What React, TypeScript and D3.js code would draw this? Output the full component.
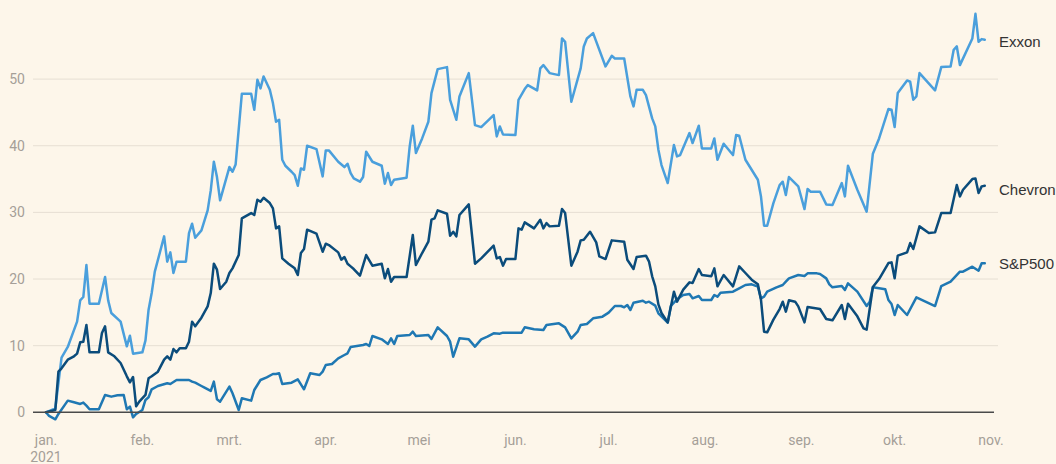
import React from 'react';
import * as d3 from 'd3';

// day offsets are days since 1 Jan 2021; values are % change since start of year
const exxonDay = [
  0, 3, 5, 7, 10, 11, 12, 13, 14, 17,
  19, 20, 21, 24, 26, 27, 28, 31, 32, 33,
  34, 35, 38, 39, 40, 41, 42, 45, 46, 47,
  48, 50, 52, 53, 54, 55, 56, 59, 60, 61,
  63, 66, 67, 68, 69, 70, 72, 73, 74, 75,
  76, 77, 79, 80, 81, 82, 83, 84, 87, 89,
  90, 91, 94, 96, 97, 98, 99, 101, 102, 103,
  105, 108, 109, 110, 111, 112, 116, 117, 118, 119,
  121, 123, 124, 126, 129, 130, 132, 133, 136, 138,
  140, 144, 145, 146, 147, 151, 152, 154, 155, 158,
  159, 160, 162, 165, 166, 167, 169, 172, 173, 174,
  176, 180, 182, 183, 186, 188, 189, 190, 192, 193,
  195, 196, 197, 198, 200, 202, 203, 204, 207, 208,
  210, 211, 214, 215, 216, 218, 221, 222, 223, 225,
  229, 230, 231, 232, 234, 236, 237, 238, 239, 242,
  244, 245, 246, 249, 251, 253, 256, 257, 258, 261,
  264, 266, 268, 271, 272, 273, 274, 277, 278, 279,
  280, 281, 286, 288, 291, 292, 293, 294, 298, 299,
  300, 301, 302,
];
const exxonPct = [
  0, 0.6, 8.2, 9.8, 13.6, 16.8, 17.3, 22.1, 16.3, 16.3,
  20.3, 16.8, 14.9, 13.6, 9.9, 11.5, 8.8, 9.0, 10.8, 15.4,
  17.9, 21.1, 26.4, 22.6, 24.0, 20.9, 22.6, 22.6, 26.9, 28.3,
  26.2, 27.3, 30.3, 33.3, 37.6, 35.3, 31.8, 36.8, 36.1, 37.2,
  47.8, 47.8, 45.4, 49.9, 48.6, 50.4, 48.4, 46.4, 43.6, 43.9,
  37.9, 37.0, 36.1, 35.6, 34.0, 36.6, 36.4, 40.0, 39.5, 35.4,
  39.3, 39.3, 37.6, 36.8, 37.3, 35.9, 35.1, 34.6, 35.3, 39.1,
  37.6, 37.0, 34.3, 35.9, 34.1, 34.9, 35.2, 39.9, 43.0, 38.9,
  41.1, 43.6, 47.9, 51.5, 51.8, 46.9, 43.9, 47.4, 50.9, 43.1,
  42.8, 44.6, 41.4, 42.9, 41.7, 41.6, 46.9, 48.5, 49.1, 48.3,
  51.6, 52.1, 50.9, 50.6, 56.1, 55.6, 46.6, 51.6, 54.9, 56.1,
  56.9, 51.9, 53.5, 53.1, 53.1, 47.4, 45.9, 48.4, 48.4, 47.6,
  44.1, 42.9, 39.4, 37.1, 34.4, 40.1, 38.4, 38.6, 41.9, 40.4,
  43.0, 39.6, 39.6, 41.1, 37.9, 40.3, 38.6, 41.6, 41.5, 37.9,
  34.9, 32.4, 28.0, 28.0, 31.4, 34.1, 34.6, 32.6, 35.3, 33.9,
  30.5, 33.5, 33.1, 33.1, 31.2, 31.1, 34.4, 32.4, 37.0, 33.4,
  30.1, 38.8, 41.1, 45.5, 45.4, 42.8, 47.9, 49.8, 49.6, 46.9,
  47.4, 50.9, 48.3, 51.8, 51.9, 54.4, 54.9, 52.1, 56.1, 59.8,
  55.6, 56.0, 55.9,
];

const chevronDay = [
  0, 3, 4, 5, 7, 9, 10, 11, 12, 13,
  14, 17, 18, 19, 20, 22, 24, 26, 27, 28,
  29, 30, 32, 33, 34, 36, 38, 39, 40, 41,
  42, 43, 45, 46, 47, 48, 50, 52, 53, 54,
  55, 56, 58, 59, 60, 62, 63, 66, 67, 68,
  69, 70, 72, 73, 74, 75, 76, 78, 80, 81,
  82, 83, 84, 87, 89, 90, 91, 94, 95, 96,
  97, 98, 99, 101, 103, 105, 108, 109, 110, 111,
  112, 116, 118, 119, 121, 123, 124, 125, 126, 129,
  130, 131, 132, 133, 136, 138, 140, 144, 145, 146,
  147, 148, 151, 152, 153, 154, 157, 159, 160, 161,
  162, 165, 166, 167, 169, 171, 172, 173, 174, 175,
  177, 178, 180, 182, 186, 187, 189, 190, 193, 194,
  195, 196, 197, 198, 200, 202, 203, 205, 207, 208,
  210, 211, 214, 215, 216, 218, 221, 223, 225, 227,
  229, 230, 231, 232, 234, 236, 237, 238, 239, 241,
  242, 244, 245, 249, 251, 253, 256, 257, 258, 261,
  263, 264, 266, 268, 271, 272, 273, 274, 277, 278,
  279, 281, 284, 286, 288, 291, 293, 294, 295, 298,
  299, 300, 301, 302,
];
const chevronPct = [
  0, 0.35, 6.1, 6.6, 7.9, 8.4, 8.8, 10.5, 10.6, 13.1,
  9.0, 9.0, 11.9, 12.9, 9.0, 8.4, 7.4, 5.4, 4.5, 5.3,
  0.9, 1.6, 2.6, 5.1, 5.4, 6.1, 7.9, 8.4, 7.9, 9.5,
  9.0, 9.6, 9.6, 10.6, 13.6, 12.9, 14.2, 15.9, 17.9, 22.3,
  21.4, 18.5, 19.6, 20.9, 21.6, 23.6, 29.1, 29.9, 29.6, 31.9,
  31.6, 32.2, 31.4, 30.6, 27.6, 27.9, 23.1, 22.3, 21.6, 20.6,
  23.9, 24.5, 27.4, 26.8, 24.1, 25.3, 25.1, 24.0, 22.9, 23.3,
  22.3, 21.9, 21.5, 20.5, 23.6, 22.0, 22.3, 20.1, 21.5, 19.6,
  20.3, 20.3, 26.6, 22.1, 23.9, 25.6, 28.9, 29.1, 30.3, 29.8,
  26.5, 27.1, 26.4, 29.6, 31.2, 22.3, 23.1, 25.0, 23.1, 23.3,
  22.0, 23.0, 23.0, 27.6, 27.4, 28.5, 27.6, 28.9, 27.6, 28.4,
  27.9, 28.0, 30.5, 29.9, 22.0, 24.1, 25.8, 25.9, 26.5, 27.1,
  25.5, 23.4, 23.0, 25.8, 25.6, 22.9, 21.5, 23.3, 23.5, 22.6,
  20.4, 18.9, 16.2, 14.9, 13.5, 18.1, 16.6, 18.4, 19.5, 19.4,
  21.5, 20.6, 20.4, 21.6, 18.9, 20.6, 18.9, 21.9, 20.9, 19.9,
  19.2, 16.9, 12.1, 12.0, 13.9, 15.5, 16.6, 15.1, 16.8, 16.6,
  15.9, 13.5, 15.8, 15.5, 14.0, 13.8, 16.1, 14.0, 16.3, 14.4,
  12.6, 12.4, 18.8, 20.0, 22.4, 22.5, 20.1, 23.5, 24.0, 25.4,
  24.5, 27.9, 26.9, 27.0, 29.9, 29.9, 34.1, 32.4, 33.4, 35.0,
  35.1, 32.9, 33.9, 34.0,
];

const spDay = [
  0, 1, 3, 4, 7, 9, 11, 12, 13, 14,
  17, 19, 21, 23, 25, 26, 27, 28, 29, 31,
  32, 33, 34, 36, 39, 40, 42, 45, 46, 47,
  48, 50, 51, 53, 54, 55, 56, 59, 60, 62,
  63, 66, 67, 69, 71, 73, 74, 75, 76, 79,
  81, 83, 85, 88, 89, 90, 92, 94, 96, 97,
  98, 102, 103, 104, 105, 108, 110, 111, 112, 113,
  117, 118, 119, 123, 124, 126, 129, 130, 131, 133,
  136, 138, 140, 142, 144, 146, 147, 151, 153, 154,
  157, 160, 161, 165, 167, 169, 171, 172, 174, 176,
  179, 181, 183, 185, 186, 187, 188, 189, 192, 193,
  194, 196, 197, 200, 201, 203, 205, 207, 208, 210,
  211, 214, 215, 216, 217, 221, 223, 225, 227, 229,
  230, 231, 232, 235, 237, 238, 239, 242, 244, 245,
  248, 249, 251, 252, 253, 256, 257, 258, 261, 264,
  265, 266, 268, 270, 271, 272, 273, 274, 277, 280,
  286, 288, 291, 294, 295, 298, 300, 301, 302,
];
const spPct = [
  0, -0.55, -1.05, -0.25, 1.75, 1.5, 1.25, 1.45, 1.0, 0.45,
  0.45, 2.6, 2.35, 2.55, 2.6, 0.45, 0.85, -0.75, -0.25, 0.35,
  1.85, 2.25, 3.45, 3.95, 4.35, 4.25, 4.85, 4.85, 4.85, 4.6,
  4.45, 3.95, 3.7, 3.2, 4.6, 1.95, 1.6, 3.85, 2.85, 0.35,
  2.1, 1.75, 3.35, 4.85, 5.25, 5.75, 5.75, 5.85, 4.25, 4.45,
  4.95, 3.45, 5.85, 5.6, 6.1, 7.1, 7.25, 8.1, 8.6, 8.85,
  9.8, 10.1, 10.25, 9.95, 11.45, 10.95, 10.25, 11.1, 10.25, 11.45,
  11.6, 12.1, 11.45, 11.6, 11.0, 12.75, 11.45, 10.6, 8.35, 11.1,
  10.95, 9.85, 10.95, 11.35, 11.85, 11.8, 11.95, 11.95, 11.95, 12.75,
  12.45, 12.35, 13.1, 13.35, 12.75, 11.1, 12.1, 13.1, 13.25, 14.1,
  14.35, 14.95, 15.95, 15.95, 15.75, 16.1, 15.35, 16.45, 16.75, 16.45,
  16.6, 16.0, 14.85, 13.45, 15.95, 16.95, 17.6, 17.75, 17.1, 17.45,
  16.85, 16.85, 17.6, 17.35, 17.95, 18.1, 18.6, 19.1, 19.2, 18.85,
  17.1, 17.35, 18.1, 18.75, 19.1, 19.6, 20.1, 20.6, 20.45, 20.85,
  20.85, 20.75, 20.1, 19.2, 18.75, 18.95, 18.35, 19.35, 18.1, 15.95,
  16.6, 18.75, 18.6, 18.45, 16.85, 16.25, 14.6, 16.1, 14.6, 17.25,
  15.95, 18.95, 19.6, 21.1, 21.1, 21.85, 21.25, 22.35, 22.35,
];

const monthLabels = ['jan.', 'feb.', 'mrt.', 'apr.', 'mei', 'jun.', 'jul.', 'aug.', 'sep.', 'okt.', 'nov.'];
const yTicks = [0, 10, 20, 30, 40, 50];
const seriesNames = ['Exxon', 'Chevron', 'S&P500'];

const W = 1056;
const H = 464;
const BG = '#fdf6ea';
const start = new Date(2021, 0, 1);

export default function App() {
  const x = d3.scaleTime().domain([start, new Date(2021, 10, 1)]).range([46, 991]);
  const y = d3.scaleLinear().domain([0, 50]).range([412.3, 79.1]);
  const months = d3.timeMonth.range(start, new Date(2021, 10, 2));

  const mk = (days: number[], vals: number[]) =>
    days.map((d, i) => ({ date: d3.timeDay.offset(start, d), v: vals[i] }));
  const line = d3
    .line<{ date: Date; v: number }>()
    .x((p) => x(p.date))
    .y((p) => y(p.v));

  const series = [
    { name: seriesNames[0], data: mk(exxonDay, exxonPct), color: '#4a9fdc' },
    { name: seriesNames[2], data: mk(spDay, spPct), color: '#1f78b3' },
    { name: seriesNames[1], data: mk(chevronDay, chevronPct), color: '#0b4c7b' },
  ];

  const labelFont = "'Liberation Sans', Arial, sans-serif";
  const tickFont = "Roboto, 'Noto Sans', sans-serif";

  return (
    <div style={{ position: 'fixed', left: 0, top: 0, width: W, height: H, background: BG }}>
      <svg width={W} height={H} style={{ display: 'block' }}>
        <rect x={0} y={0} width={W} height={H} fill={BG} />
        {yTicks.map((t) => (
          <g key={t}>
            {t !== 0 && (
              <line x1={33} x2={998} y1={y(t)} y2={y(t)} stroke="#e6dfd3" strokeWidth={1} />
            )}
            <text
              x={25}
              y={y(t)}
              dy="0.36em"
              textAnchor="end"
              fontFamily={tickFont}
              fontSize={14}
              fill="#a59f98"
            >
              {t}
            </text>
          </g>
        ))}
        {months.map((m, i) => (
          <text
            key={i}
            x={x(m)}
            y={445}
            textAnchor="middle"
            fontFamily={tickFont}
            fontSize={14}
            fill="#a59f98"
          >
            {monthLabels[i]}
          </text>
        ))}
        <text x={x(start)} y={462} textAnchor="middle" fontFamily={tickFont} fontSize={14} fill="#a59f98">
          2021
        </text>
        {series.map((s) => (
          <path
            key={s.name}
            d={line(s.data) || ''}
            fill="none"
            stroke={s.color}
            strokeWidth={2.5}
            strokeLinejoin="round"
            strokeLinecap="round"
          />
        ))}
        <line x1={33} x2={994} y1={y(0)} y2={y(0)} stroke="#4a4a4a" strokeWidth={1.5} />
        <text x={999} y={42} dy="0.35em" fontFamily={labelFont} fontSize={15} fill="#333">
          {seriesNames[0]}
        </text>
        <text x={999} y={190} dy="0.35em" fontFamily={labelFont} fontSize={15} fill="#333">
          {seriesNames[1]}
        </text>
        <text x={999} y={264} dy="0.35em" fontFamily={labelFont} fontSize={15} fill="#333">
          {seriesNames[2]}
        </text>
      </svg>
    </div>
  );
}
